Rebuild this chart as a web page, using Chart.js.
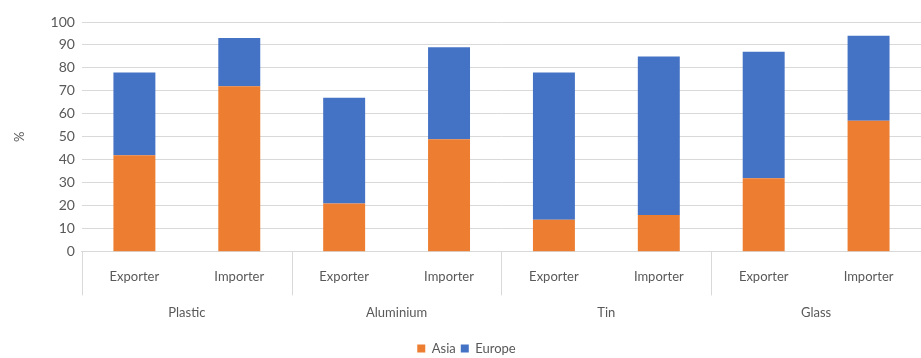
<!DOCTYPE html>
<html>
<head>
<meta charset="utf-8">
<script src="https://cdn.jsdelivr.net/npm/chart.js@4/dist/chart.umd.min.js"></script>
<style>
html,body{margin:0;padding:0;background:#fff;}
#wrap{width:921px;height:358px;position:relative;}
</style>
</head>
<body>
<div id="wrap"><canvas id="c"></canvas></div>
<script>
const groups = ['Plastic', 'Aluminium', 'Tin', 'Glass'];
const roles = ['Exporter', 'Importer', 'Exporter', 'Importer', 'Exporter', 'Importer', 'Exporter', 'Importer'];
const asia = [42, 72, 21, 49, 14, 16, 32, 57];
const europe = [36, 21, 46, 40, 64, 69, 55, 37];
const yTicks = [0, 10, 20, 30, 40, 50, 60, 70, 80, 90, 100];

const FONT = "Lato, 'Liberation Sans Narrow', sans-serif";
const GRID = '#d9d9d9';
const TXT = '#595959';

const separators = {
  id: 'separators',
  afterDraw(chart) {
    const x = chart.scales.x, ca = chart.chartArea;
    const ctx = chart.ctx;
    ctx.save();
    ctx.strokeStyle = GRID;
    ctx.lineWidth = 1;
    const n = roles.length;
    const xs = [ca.left];
    for (let i = 2; i < n; i += 2) {
      xs.push((x.getPixelForValue(i - 1) + x.getPixelForValue(i)) / 2);
    }
    xs.push(ca.right - 0.5);
    xs.forEach(px => {
      const p = Math.round(px) + 0.5;
      ctx.beginPath();
      ctx.moveTo(p, x.top);
      ctx.lineTo(p, x.bottom + 2);
      ctx.stroke();
    });
    ctx.restore();
  }
};

new Chart(document.getElementById('c'), {
  type: 'bar',
  data: {
    labels: roles,
    datasets: [
      { label: 'Asia', data: asia, backgroundColor: '#ED7D31', barPercentage: 0.4, categoryPercentage: 1.0 },
      { label: 'Europe', data: europe, backgroundColor: '#4472C4', barPercentage: 0.4, categoryPercentage: 1.0 }
    ]
  },
  options: {
    responsive: true,
    maintainAspectRatio: false,
    animation: false,
    layout: { padding: { top: 22, right: 0, left: 12, bottom: -7 } },
    plugins: {
      legend: {
        position: 'bottom',
        labels: { font: { family: FONT, size: 13 }, color: TXT, boxWidth: 8, boxHeight: 8, padding: 5 }
      },
      tooltip: { enabled: false }
    },
    scales: {
      x: {
        stacked: true,
        grid: { display: false },
        border: { display: true, color: GRID },
        ticks: { font: { family: FONT, size: 13 }, color: TXT, padding: 9, maxRotation: 0 }
      },
      x2: {
        type: 'category',
        labels: groups,
        position: 'bottom',
        grid: { display: false },
        border: { display: false },
        ticks: { font: { family: FONT, size: 13 }, color: TXT, padding: 4 },
        afterFit(scale) { scale.height += 12; }
      },
      y: {
        stacked: true,
        min: 0,
        max: 100,
        afterBuildTicks(scale) { scale.ticks = yTicks.map(v => ({ value: v })); },
        grid: { color: GRID, drawTicks: false },
        border: { display: false },
        ticks: { font: { family: FONT, size: 14 }, color: TXT, padding: 7 },
        title: { display: true, text: '%', font: { family: FONT, size: 13 }, color: TXT, padding: { top: 0, bottom: 16 } }
      }
    }
  },
  plugins: [separators]
});
</script>
</body>
</html>
